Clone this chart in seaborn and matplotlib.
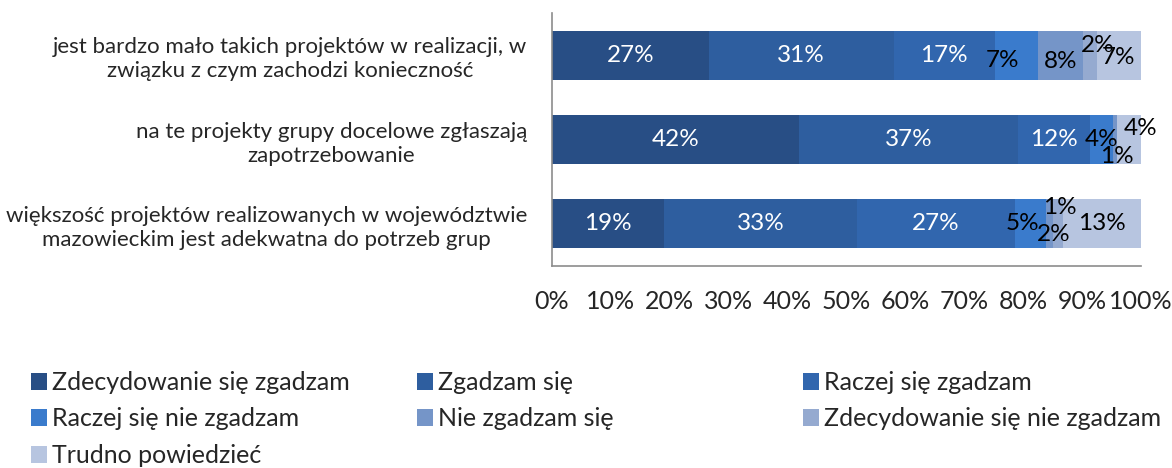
import matplotlib
matplotlib.use("Agg")
import matplotlib.pyplot as plt
import seaborn as sns
import numpy as np
import pandas as pd
from matplotlib.patches import Patch

# ---- data ----
categories = [
    "jest bardzo mało takich projektów w realizacji, w\nzwiązku z czym zachodzi konieczność",
    "na te projekty grupy docelowe zgłaszają\nzapotrzebowanie",
    "większość projektów realizowanych w województwie\nmazowieckim jest adekwatna do potrzeb grup",
]
series_names = [
    "Zdecydowanie się zgadzam",
    "Zgadzam się",
    "Raczej się zgadzam",
    "Raczej się nie zgadzam",
    "Nie zgadzam się",
    "Zdecydowanie się nie zgadzam",
    "Trudno powiedzieć",
]
zdecydowanie_tak = [26.6, 42.0, 19.0]
zgadzam = [31.45, 37.2, 32.8]
raczej_tak = [17.1, 12.2, 26.8]
raczej_nie = [7.4, 3.9, 5.2]
nie_zgadzam = [7.6, 0.7, 1.2]
zdecydowanie_nie = [2.4, 0.0, 1.8]
trudno = [7.45, 4.0, 13.2]
tick_values = [0, 10, 20, 30, 40, 50, 60, 70, 80, 90, 100]

series_values = [zdecydowanie_tak, zgadzam, raczej_tak, raczej_nie,
                 nie_zgadzam, zdecydowanie_nie, trudno]

# ---- style ----
colors = ["#284E85", "#2E5E9F", "#3166AE", "#3A7BCC", "#7595C8", "#95AAD0", "#B7C5E0"]
label_colors = ["white", "white", "white", "black", "black", "black", "black"]
# label nudges in pixels (dx, dy) keyed by (row, series); dy positive = up
nudges = {
    (0, 3): (-14, -5), (0, 4): (0, -6), (0, 5): (8, 10), (0, 6): (-1, -2),
    (1, 4): (1, -17), (1, 6): (11, 11),
    (2, 3): (-8, 0), (2, 4): (11, 16), (2, 5): (-4, -11),
}

sns.set_theme(style="white")
plt.rcParams["font.family"] = ["Lato", "DejaVu Sans"]

fig = plt.figure(figsize=(11.72, 4.68), dpi=100)
ax = fig.add_axes([552 / 1172, 1 - 266 / 468, 589 / 1172, 253 / 468])

vals = np.array(series_values)  # shape (series, rows)
cum = np.cumsum(vals, axis=0)

# overdraw cumulative totals from largest to smallest
for i in range(len(series_names) - 1, -1, -1):
    df = pd.DataFrame({"cat": categories, "val": cum[i]})
    sns.barplot(data=df, x="val", y="cat", orient="h", color=colors[i],
                saturation=1, width=0.58, ax=ax, edgecolor="none", linewidth=0)

ax.set_xlim(0, 100)
ax.set_ylim(2.5, -0.5)
ax.set_xticks(tick_values)
ax.set_xticklabels([f"{v}%" for v in tick_values])
ax.set_xlabel("")
ax.set_ylabel("")
ax.tick_params(axis="x", length=0, pad=17, labelsize=18)
ax.tick_params(axis="y", length=0, pad=18, labelsize=16)
for t in ax.get_yticklabels():
    t.set_multialignment("center")
    t.set_linespacing(1.25)
for s in ["top", "right"]:
    ax.spines[s].set_visible(False)
for s in ["left", "bottom"]:
    ax.spines[s].set_color("#8c8c8c")
    ax.spines[s].set_linewidth(1.2)

# data labels
for i in range(len(series_names)):
    for r in range(len(categories)):
        v = vals[i, r]
        if v <= 0:
            continue
        xc = cum[i, r] - v / 2
        dx, dy = nudges.get((r, i), (0, 0))
        ax.annotate(f"{int(round(v))}%", xy=(xc, r), xytext=(dx, dy),
                    textcoords="offset pixels", ha="center", va="center",
                    fontsize=17.5, color=label_colors[i], annotation_clip=False)

# legend: three columns, row-major order
col_x = [31 / 1172, 417 / 1172, 803 / 1172]
columns = [[0, 3, 6], [1, 4], [2, 5]]
for cx, idxs in zip(col_x, columns):
    handles = [Patch(facecolor=colors[k], edgecolor="none") for k in idxs]
    labels = [series_names[k] for k in idxs]
    leg = fig.legend(handles, labels, loc="upper left",
                     bbox_to_anchor=(cx, 1 - 371 / 468), frameon=False,
                     fontsize=18, handlelength=0.65, handleheight=0.65,
                     handletextpad=0.2, labelspacing=0.54, borderpad=0,
                     borderaxespad=0)

fig.savefig("out.png", dpi=100)
